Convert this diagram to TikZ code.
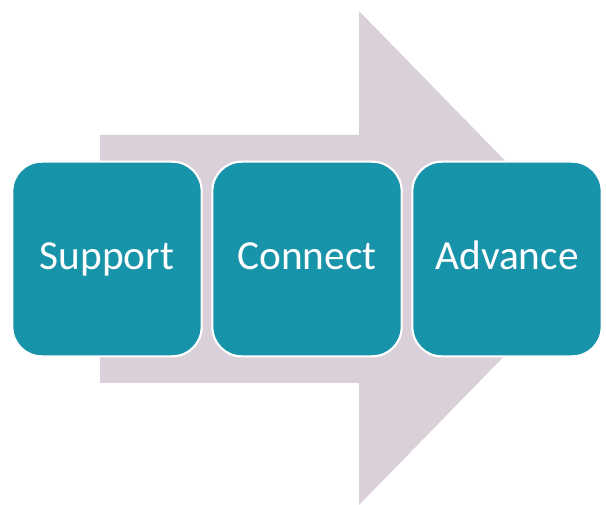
\documentclass[tikz,border=0pt]{standalone}
\usepackage{fontspec}
\setmainfont{Carlito}
\definecolor{stepteal}{RGB}{23,147,170}
\definecolor{arrowmauve}{RGB}{217,208,218}
\tikzset{
  stagebox/.style={draw=white,line width=1.6pt,fill=stepteal,rounded corners=22pt,
    minimum width=142pt,minimum height=146pt,text=white,
    text height=22pt,text depth=5.5pt,
    font=\fontsize{31}{36}\selectfont}
}

\begin{document}
\begin{tikzpicture}[x=0.75pt,y=-0.75pt]
        \useasboundingbox(0,0)rectangle(606,505);
        % big arrow behind
        \fill[arrowmauve](100,135)--(359,135)--(359,11)--(600,258)--(359,505)--(359,383)--(100,383)--cycle;
        \node[stagebox](support)at(107,259){Support};
        \node[stagebox](connect)at(307,259){Connect};
        \node[stagebox](advance)at(507,259){Advance};
    \end{tikzpicture}
\end{document}
